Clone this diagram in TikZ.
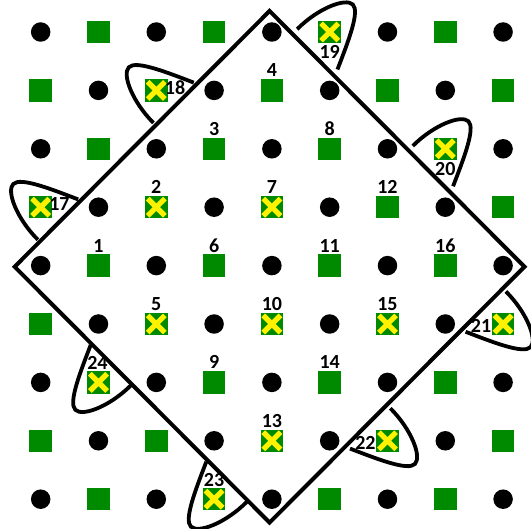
\documentclass[tikz,border=0pt]{standalone}
\usepackage{fontspec}
\setmainfont{Carlito}
\usetikzlibrary{shapes.misc,calc}
\definecolor{sitegreen}{RGB}{0,138,0}

\begin{document}
\begin{tikzpicture}[
    x=57.8pt, y=58.4pt,
    dot/.style={circle, fill=black, inner sep=0pt, minimum size=19.5pt},
    site/.style={rectangle, fill=sitegreen, inner sep=0pt, minimum size=22.5pt},
    hit/.style={cross out, draw=yellow, line width=5.2pt, inner sep=0pt,
                minimum size=12pt},
    num/.style={font=\fontsize{20}{24}\selectfont\bfseries, inner sep=0pt},
    rim/.style={line width=4pt, line join=miter},
    lobe/.style={line width=3.8pt},
]
\useasboundingbox (-0.704,-0.510) rectangle (8.483,8.548);

% Lattice: dots on even sites, squares on odd sites
\foreach \c in {0,...,8}
  \foreach \r in {0,...,8} {
    \pgfmathtruncatemacro{\odd}{mod(\c+\r,2)}
    \ifnum\odd=0
      \node[dot]  (p-\c-\r) at (\c,\r) {};
    \else
      \node[site] (p-\c-\r) at (\c,\r) {};
    \fi
  }

% Rotated square
\coordinate (top)    at (3.96,8.36);
\coordinate (right)  at (8.37,3.98);
\coordinate (bottom) at (3.96,-0.40);
\coordinate (left)   at (-0.45,3.98);
\draw[rim] (left) -- (top) -- (right) -- (bottom) -- cycle;

% Loops round the outer sites
\foreach \c/\r/\ang in {0/5/45, 2/7/45, 5/8/-45, 7/6/-45,
                        8/3/-135, 6/1/-135, 3/0/135, 1/2/135}
  \draw[lobe, shift={(p-\c-\r.center)}, rotate=\ang]
    (32pt,-21pt) .. controls (19.8pt,6.4pt) and (7pt,35.8pt) .. (-3pt,35.8pt)
    .. controls (-13pt,35.8pt) and (-25pt,9pt) .. (-25pt,-21pt);

% Crosses
\foreach \c/\r in {2/5, 2/3, 4/5, 4/3, 4/1, 6/3,
                   0/5, 2/7, 5/8, 7/6, 8/3, 6/1, 3/0, 1/2}
  \node[hit] (x-\c-\r) at (p-\c-\r) {};

% Numbers inside
\foreach \c/\r/\n in {1/4/1, 2/5/2, 3/6/3, 4/7/4, 2/3/5, 3/4/6, 4/5/7, 5/6/8,
                      3/2/9, 4/3/10, 5/4/11, 6/5/12, 4/1/13, 5/2/14, 6/3/15, 7/4/16}
  \node[num] (n\n) at ($(p-\c-\r)+(0,20pt)$) {\n};

% Numbers outside
\node[num] (n17) at ($(p-0-5)+(18.8pt,3pt)$) {17};
\node[num] (n18) at ($(p-2-7)+(18.8pt,3pt)$) {18};
\node[num] (n19) at ($(p-5-8)+(0,-20pt)$) {19};
\node[num] (n20) at ($(p-7-6)+(0,-20pt)$) {20};
\node[num] (n21) at ($(p-8-3)+(-22pt,-2pt)$) {21};
\node[num] (n22) at ($(p-6-1)+(-22pt,-2pt)$) {22};
\node[num] (n23) at ($(p-3-0)+(0,19.5pt)$) {23};
\node[num] (n24) at ($(p-1-2)+(-1pt,19.5pt)$) {24};

\end{tikzpicture}
\end{document}
